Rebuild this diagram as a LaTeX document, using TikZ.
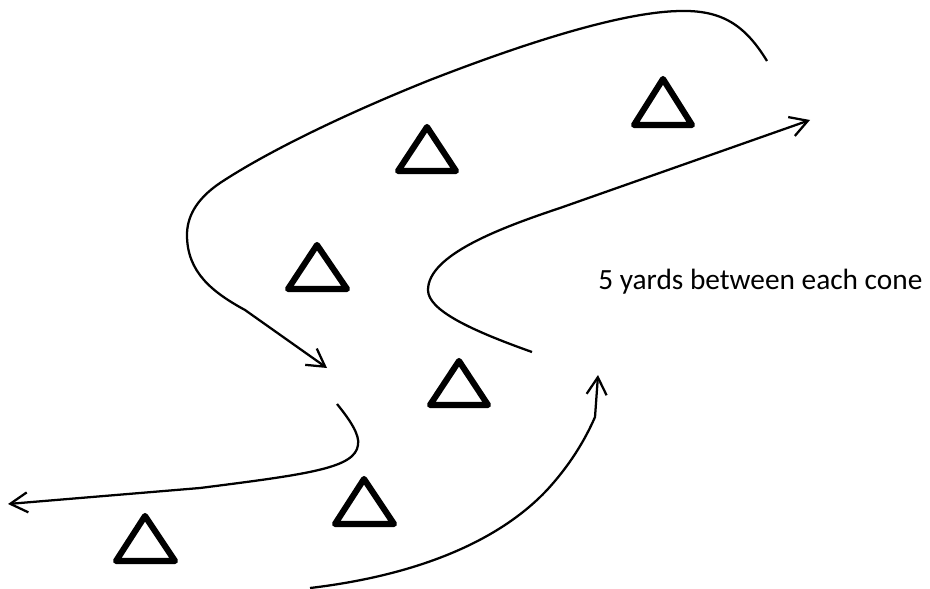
\documentclass[tikz,border=0pt]{standalone}
\usepackage{fontspec}
\setmainfont{Carlito}
\usetikzlibrary{arrows.meta}
\begin{document}
\begin{tikzpicture}[x=0.75pt,y=-0.75pt,
  cone/.style={line width=4.6pt,line join=round,line cap=round},
  run/.style={line width=1.7pt},
  open/.style={-{Straight Barb[length=13pt,width=15pt,line width=1.7pt]}}]
\useasboundingbox (0,0) rectangle (930,588);
% cones
\draw[cone] (663,79) -- (692,125) -- (634,125) -- cycle;
\draw[cone] (427,127) -- (456,171) -- (398,171) -- cycle;
\draw[cone] (317,245) -- (347,289) -- (288,289) -- cycle;
\draw[cone] (459,361) -- (488,405) -- (430,405) -- cycle;
\draw[cone] (364,479) -- (394,524) -- (335,524) -- cycle;
\draw[cone] (145,516) -- (175,561) -- (116,561) -- cycle;
% named end points
\coordinate (a0) at (767,61);
\coordinate (a1) at (327,368);
\coordinate (b0) at (532,352);
\coordinate (b1) at (810,120);
\coordinate (c0) at (337,404);
\coordinate (c1) at (8,504);
\coordinate (d0) at (310,588);
\coordinate (d1) at (598,375);
% runs
\draw[run,open] (a0) .. controls (745,25) and (722,10) .. (680,11)
  .. controls (620,12) and (520,45) .. (430,80)
  .. controls (350,112) and (270,150) .. (220,183)
  .. controls (195,200) and (187,218) .. (187,235)
  .. controls (187,272) and (212,292) .. (245,310) -- (a1);
\draw[run,open] (b0) .. controls (470,330) and (428,310) .. (428,290)
  .. controls (428,255) and (500,228) .. (560,208) -- (b1);
\draw[run,open] (c0) .. controls (350,420) and (360,435) .. (358,445)
  .. controls (355,468) and (310,474) .. (200,488) -- (c1);
\draw[run,open] (d0) .. controls (420,575) and (500,540) .. (547,490)
  .. controls (570,465) and (585,440) .. (595,417) -- (d1);
% label
\node[anchor=base west,inner sep=0pt,font=\fontsize{22}{26}\selectfont] (lbl) at (598,289) {5 yards between each cone};
\end{tikzpicture}
\end{document}
